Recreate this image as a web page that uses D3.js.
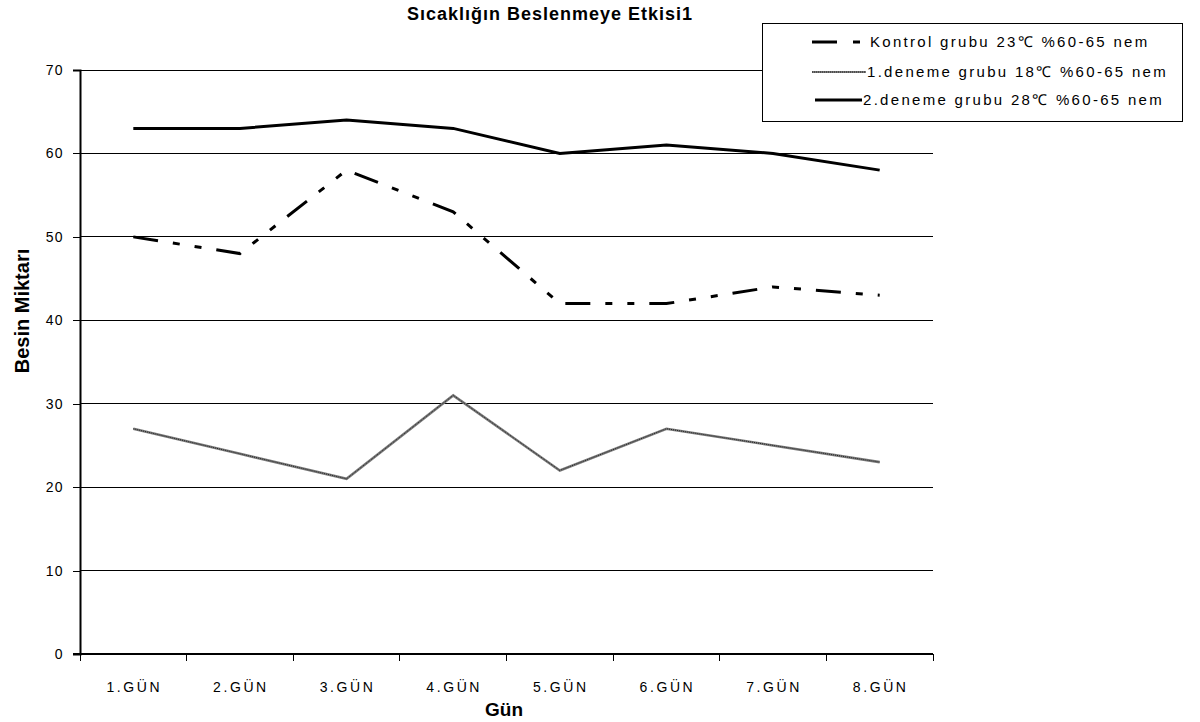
<!DOCTYPE html>
<html>
<head>
<meta charset="utf-8">
<script src="https://cdn.jsdelivr.net/npm/d3@7"></script>
<style>
  html, body { margin: 0; padding: 0; background: #fff; }
  svg { display: block; }
  text { font-family: "Liberation Sans", Arial, sans-serif; fill: #000; }
</style>
</head>
<body>
<svg id="chart" width="1200" height="722"></svg>
<script>
// Günlük besin miktarı, üç sıcaklık grubu
const days = ["1.GÜN", "2.GÜN", "3.GÜN", "4.GÜN", "5.GÜN", "6.GÜN", "7.GÜN", "8.GÜN"];
const kontrol = [50, 48, 58, 53, 42, 42, 44, 43];
const deneme1 = [27, 24, 21, 31, 22, 27, 25, 23];
const deneme2 = [63, 63, 64, 63, 60, 61, 60, 58];
const yTicks = [0, 10, 20, 30, 40, 50, 60, 70];
const seriesNames = [
  "Kontrol grubu 23℃ %60-65 nem",
  "1.deneme grubu 18℃ %60-65 nem",
  "2.deneme grubu 28℃ %60-65 nem"
];

const svg = d3.select("#chart");
const plot = { left: 80, right: 933, top: 70, bottom: 654 };

const x = d3.scaleBand().domain(days).range([plot.left, plot.right]).paddingInner(0).paddingOuter(0);
const y = d3.scaleLinear().domain([0, 70]).range([plot.bottom, plot.top]);
const cx = d => x(d) + x.bandwidth() / 2;

// yatay ızgara çizgileri
svg.append("g")
  .selectAll("line")
  .data(yTicks.filter(t => t > 0))
  .join("line")
  .attr("x1", plot.left).attr("x2", plot.right)
  .attr("y1", d => y(d)).attr("y2", d => y(d))
  .attr("stroke", "#000").attr("stroke-width", 1)
  .attr("shape-rendering", "crispEdges");

// y ekseni
const yAxis = svg.append("g")
  .attr("transform", `translate(${plot.left},0)`)
  .call(d3.axisLeft(y).tickValues(yTicks).tickSize(7).tickPadding(9));
yAxis.select(".domain").attr("stroke", "#000").attr("stroke-width", 2);
yAxis.selectAll(".tick line").attr("stroke", "#000").attr("shape-rendering", "crispEdges");
yAxis.selectAll(".tick text")
  .style("font-size", "14px")
  .style("letter-spacing", "1.4px")
  .style("font-family", "'Liberation Sans', Arial, sans-serif");

// x ekseni: çizgi, bant sınırlarında işaretler ve etiketler
const xg = svg.append("g");
xg.append("line")
  .attr("x1", plot.left - 7).attr("x2", plot.right)
  .attr("y1", plot.bottom).attr("y2", plot.bottom)
  .attr("stroke", "#000").attr("stroke-width", 2);
const bounds = days.map(d => x(d)).concat([plot.right]);
xg.selectAll("line.tk")
  .data(bounds)
  .join("line")
  .attr("class", "tk")
  .attr("x1", d => d).attr("x2", d => d)
  .attr("y1", plot.bottom).attr("y2", plot.bottom + 7)
  .attr("stroke", "#000").attr("stroke-width", 1)
  .attr("shape-rendering", "crispEdges");
xg.selectAll("text")
  .data(days)
  .join("text")
  .attr("x", d => cx(d) + 1)
  .attr("y", 692)
  .attr("text-anchor", "middle")
  .style("font-size", "14px")
  .style("letter-spacing", "2.6px")
  .text(d => d);

// seri çizgileri
const line = d3.line().x((d, i) => cx(days[i])).y(d => y(d));

// 1.deneme grubu: gri, dokulu ince çizgi
svg.append("path")
  .datum(deneme1)
  .attr("d", line)
  .attr("fill", "none")
  .attr("stroke", "#7a7a7a")
  .attr("stroke-width", 2.6);
svg.append("path")
  .datum(deneme1)
  .attr("d", line)
  .attr("fill", "none")
  .attr("stroke", "#222")
  .attr("stroke-width", 1)
  .attr("stroke-dasharray", "1,1");

// Kontrol grubu: uzun-kısa-kısa kesikli
svg.append("path")
  .datum(kontrol)
  .attr("d", line)
  .attr("fill", "none")
  .attr("stroke", "#000")
  .attr("stroke-width", 3)
  .attr("stroke-dasharray", "25,15,7,15,7,15");

// 2.deneme grubu: düz kalın
svg.append("path")
  .datum(deneme2)
  .attr("d", line)
  .attr("fill", "none")
  .attr("stroke", "#000")
  .attr("stroke-width", 3);

// başlıklar
svg.append("text")
  .attr("x", 550).attr("y", 20)
  .attr("text-anchor", "middle")
  .style("font-size", "18px").style("font-weight", "bold")
  .style("letter-spacing", "1px")
  .text("Sıcaklığın Beslenmeye Etkisi1");

svg.append("text")
  .attr("transform", "translate(29,311) rotate(-90)")
  .attr("text-anchor", "middle")
  .style("font-size", "20px").style("font-weight", "bold")
  .style("font-family", "'Liberation Sans Narrow', 'Liberation Sans', Arial, sans-serif")
  .text("Besin Miktarı");

svg.append("text")
  .attr("x", 504).attr("y", 716)
  .attr("text-anchor", "middle")
  .style("font-size", "19px").style("font-weight", "bold")
  .style("font-family", "'Liberation Sans Narrow', 'Liberation Sans', Arial, sans-serif")
  .text("Gün");

// lejant
const lg = svg.append("g");
lg.append("rect")
  .attr("x", 762.5).attr("y", 23.5)
  .attr("width", 420).attr("height", 98)
  .attr("fill", "#fff").attr("stroke", "#000").attr("stroke-width", 1);

const rowsY = [42, 72, 100];
// Kontrol örneği
lg.append("line").attr("x1", 812).attr("x2", 837).attr("y1", rowsY[0]).attr("y2", rowsY[0])
  .attr("stroke", "#000").attr("stroke-width", 3);
lg.append("line").attr("x1", 853).attr("x2", 860).attr("y1", rowsY[0]).attr("y2", rowsY[0])
  .attr("stroke", "#000").attr("stroke-width", 3);
// 1.deneme örneği
lg.append("line").attr("x1", 812).attr("x2", 866).attr("y1", rowsY[1]).attr("y2", rowsY[1])
  .attr("stroke", "#7a7a7a").attr("stroke-width", 2);
lg.append("line").attr("x1", 812).attr("x2", 866).attr("y1", rowsY[1]).attr("y2", rowsY[1])
  .attr("stroke", "#222").attr("stroke-width", 1).attr("stroke-dasharray", "1,1");
// 2.deneme örneği
lg.append("line").attr("x1", 815).attr("x2", 862).attr("y1", rowsY[2]).attr("y2", rowsY[2])
  .attr("stroke", "#000").attr("stroke-width", 3);

const textX = [870, 867, 863];
lg.selectAll("text")
  .data(seriesNames)
  .join("text")
  .attr("x", (d, i) => textX[i])
  .attr("y", (d, i) => rowsY[i] + 5)
  .style("font-size", "15px")
  .style("letter-spacing", "2.3px")
  .text(d => d);
</script>
</body>
</html>
